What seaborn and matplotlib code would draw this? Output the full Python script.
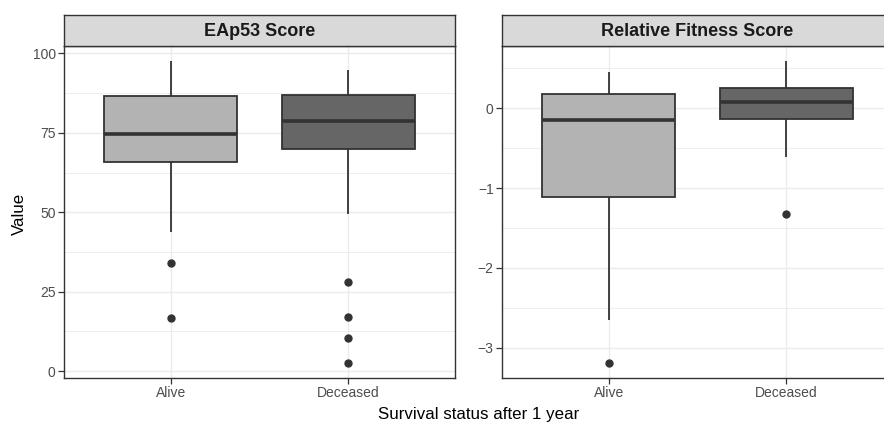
import pandas as pd
import seaborn as sns
import matplotlib.pyplot as plt
from matplotlib.ticker import MultipleLocator

# groups and facet titles
groups = ['Alive', 'Deceased']
facets = ['EAp53 Score', 'Relative Fitness Score']

# per-patient scores (quartiles, whiskers, outliers)
eap53_alive = [16.6, 34.1, 43.9, 58.0, 65.8, 68.0, 71.0, 73.0, 74.7,
               77.0, 80.0, 84.0, 86.7, 89.0, 92.0, 95.0, 97.6]
eap53_deceased = [2.6, 10.4, 16.9, 28.2, 49.4, 69.8, 72.0, 74.0, 76.0, 77.5,
                  78.9, 80.0, 82.0, 84.0, 85.5, 86.8, 88.0, 90.0, 92.0, 93.5, 94.8]
rfs_alive = [-3.19, -2.655, -1.9, -1.5, -1.117, -0.8, -0.5, -0.3, -0.146,
             -0.05, 0.05, 0.12, 0.183, 0.25, 0.32, 0.4, 0.458]
rfs_deceased = [-1.33, -0.61, -0.45, -0.3, -0.2, -0.13, -0.08, -0.03, 0.01, 0.04,
                0.075, 0.1, 0.14, 0.18, 0.22, 0.25, 0.3, 0.36, 0.43, 0.5, 0.59]

y_ticks = {'EAp53 Score': [0, 25, 50, 75, 100],
           'Relative Fitness Score': [-3, -2, -1, 0]}
y_minor = {'EAp53 Score': 12.5, 'Relative Fitness Score': 0.5}

fill_colors = {'Alive': '#b3b3b3', 'Deceased': '#666666'}


def build_frame():
    rows = []
    for facet, alive, dead in [(facets[0], eap53_alive, eap53_deceased),
                               (facets[1], rfs_alive, rfs_deceased)]:
        for v in alive:
            rows.append({'Facet': facet, 'Status': 'Alive', 'Value': v})
        for v in dead:
            rows.append({'Facet': facet, 'Status': 'Deceased', 'Value': v})
    return pd.DataFrame(rows)


df = build_frame()

sns.set_style('white')
plt.rcParams['font.family'] = ['Liberation Sans', 'DejaVu Sans']

fig = plt.figure(figsize=(8.84, 4.25), dpi=100)

W, H = 884, 425
panel_lefts = [64, 502]
panel_w = 391
panel_top, panel_bottom = 46, 378
strip_top = 15

for i, (facet, left) in enumerate(zip(facets, panel_lefts)):
    ax = fig.add_axes([left / W, 1 - panel_bottom / H, panel_w / W,
                       (panel_bottom - panel_top) / H])
    sub = df[df['Facet'] == facet]
    sns.boxplot(data=sub, x='Status', y='Value', hue='Status', order=groups,
                hue_order=groups, palette=fill_colors, width=0.75,
                linewidth=1.3, linecolor='#333333', showcaps=False,
                legend=False, ax=ax,
                medianprops=dict(linewidth=2.6, color='#333333'),
                flierprops=dict(marker='o', markersize=5,
                                markerfacecolor='#333333',
                                markeredgecolor='#333333'))

    lo, hi = sub['Value'].min(), sub['Value'].max()
    pad = 0.05 * (hi - lo)
    ax.set_ylim(lo - pad, hi + pad)
    ax.set_xlim(-0.6, 1.6)
    ax.set_yticks(y_ticks[facet])
    ax.yaxis.set_minor_locator(MultipleLocator(y_minor[facet]))

    ax.set_axisbelow(True)
    ax.grid(True, which='major', color='#ebebeb', linewidth=1.0)
    ax.grid(True, which='minor', axis='y', color='#ebebeb', linewidth=0.6)
    ax.tick_params(axis='both', which='major', length=4, width=0.9,
                   color='#333333', labelsize=10, labelcolor='#4d4d4d', pad=2)
    ax.tick_params(axis='y', which='minor', length=0)
    ax.tick_params(left=True, bottom=True)
    for s in ax.spines.values():
        s.set_color('#333333')
        s.set_linewidth(1.0)
    ax.set_xlabel('')
    ax.set_ylabel('')

    # facet strip
    sx = fig.add_axes([left / W, 1 - panel_top / H, panel_w / W,
                       (panel_top - strip_top) / H])
    sx.set_facecolor('#d9d9d9')
    sx.set_xticks([])
    sx.set_yticks([])
    for s in sx.spines.values():
        s.set_color('#333333')
        s.set_linewidth(1.0)
    sx.text(0.5, 0.48, facet, ha='center', va='center', fontsize=13,
            fontweight='bold', color='#1a1a1a', transform=sx.transAxes)

    # the right panel runs past the image edge in the original
    if i == 1:
        ax.spines['right'].set_visible(False)
        sx.spines['right'].set_visible(False)

fig.text(19 / W, 1 - 213.5 / H, 'Value', rotation=90, ha='center',
         va='center', fontsize=12.2, color='black')
fig.text(478.5 / W, 1 - 415 / H, 'Survival status after 1 year',
         ha='center', va='center', fontsize=12.2, color='black')

fig.savefig('out.png', dpi=100)
